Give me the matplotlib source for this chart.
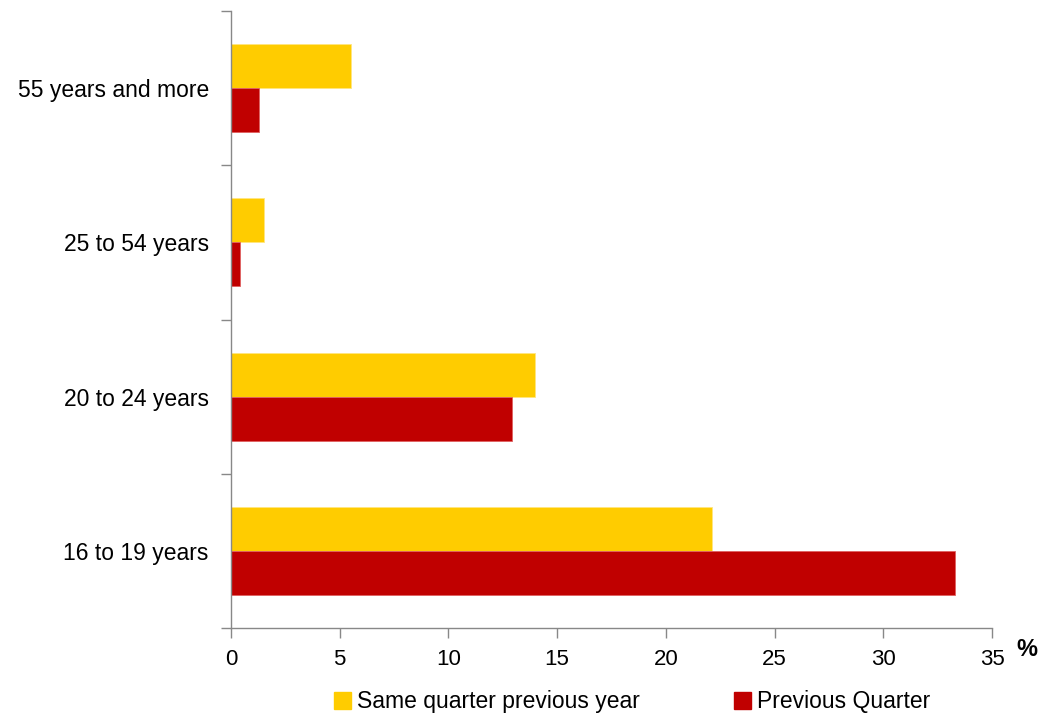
import numpy as np
import matplotlib
matplotlib.use('Agg')
import matplotlib.pyplot as plt
from matplotlib.patches import Patch

plt.rcParams['font.family'] = ['Liberation Sans', 'DejaVu Sans']

# age groups, bottom to top
groups = ['16 to 19 years', '20 to 24 years', '25 to 54 years', '55 years and more']
same_quarter_prev_year = [22.1, 14.0, 1.5, 5.5]
previous_quarter = [33.3, 12.9, 0.4, 1.3]

yellow = '#FFCC00'
red = '#C00000'

fig = plt.figure(figsize=(10.41, 7.16), dpi=100)
ax = fig.add_axes([0.2219, 0.1229, 0.7311, 0.8617])

y = np.arange(len(groups))
h = 0.285
ax.barh(y + h / 2, same_quarter_prev_year, h, color=yellow, edgecolor='#FFE680', linewidth=0.6)
ax.barh(y - h / 2, previous_quarter, h, color=red, edgecolor='#E06060', linewidth=0.6)

ax.set_xlim(0, 35)
ax.set_ylim(-0.5, len(groups) - 0.5)
ax.set_xticks(np.arange(0, 36, 5))

# category labels centred, ticks at boundaries
ax.set_yticks(np.arange(-0.5, len(groups), 1.0))
ax.set_yticklabels([])
ax.set_yticks(y, minor=True)
ax.set_yticklabels(groups, minor=True)
ax.tick_params(axis='y', which='minor', length=0, pad=16, labelsize=16.5)
ax.tick_params(axis='y', which='major', length=7, color='#888888', width=1)
ax.tick_params(axis='x', length=7, color='#888888', width=1, labelsize=16, pad=8)

for s in ['top', 'right']:
    ax.spines[s].set_visible(False)
for s in ['left', 'bottom']:
    ax.spines[s].set_color('#888888')
    ax.spines[s].set_linewidth(1)

fig.text(0.986, 0.093, '%', fontsize=17, fontweight='bold', ha='center', va='center')

handles = [Patch(color=yellow, label='Same quarter previous year'),
           Patch(color=red, label='Previous Quarter')]
fig.legend(handles=handles, loc='center', bbox_to_anchor=(0.607, 0.02), ncol=2,
           frameon=False, fontsize=16.5, handlelength=0.75, handleheight=0.75,
           handletextpad=0.25, columnspacing=4.1)

fig.savefig('out.png', dpi=100)
